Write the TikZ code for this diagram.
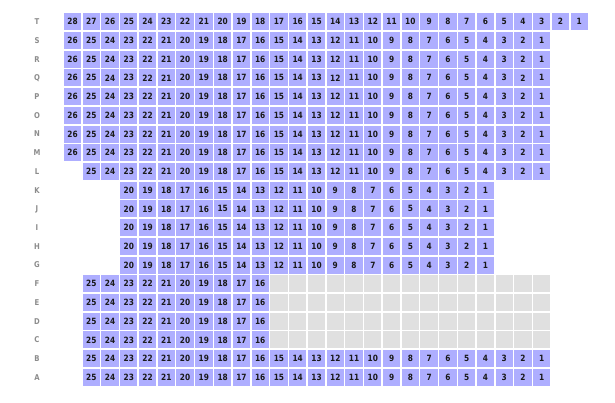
\documentclass[tikz,border=0pt]{standalone}
\usepackage{fontspec}
\setmainfont{DejaVu Sans}[FakeStretch=0.86]
\definecolor{seat}{HTML}{AEAEFF}
\definecolor{blocked}{HTML}{E0E0E0}
\definecolor{rowlbl}{HTML}{8C8C8C}
\begin{document}
\begin{tikzpicture}[x=1pt,y=-1pt,
  seatbox/.style={fill=seat, minimum width=17.3pt, minimum height=17pt, inner sep=0pt,
    font=\bfseries\fontsize{8.6}{8.6}\selectfont, text=black!90},
  blockbox/.style={fill=blocked, minimum width=17.3pt, minimum height=17pt, inner sep=0pt},
  rowlabel/.style={font=\bfseries\fontsize{8}{8}\selectfont, text=rowlbl, inner sep=0pt}]
\useasboundingbox (0,0) rectangle (615,402);
\foreach \r/\lab/\st/\top/\cnt/\g in {
  0/T/0/28/28/0, 1/S/0/26/26/0, 2/R/0/26/26/0, 3/Q/0/26/26/0, 4/P/0/26/26/0,
  5/O/0/26/26/0, 6/N/0/26/26/0, 7/M/0/26/26/0, 8/L/1/25/25/0,
  9/K/3/20/20/0, 10/J/3/20/20/0, 11/I/3/20/20/0, 12/H/3/20/20/0, 13/G/3/20/20/0,
  14/F/1/25/10/15, 15/E/1/25/10/15, 16/D/1/25/10/15, 17/C/1/25/10/15,
  18/B/1/25/25/0, 19/A/1/25/25/0}{
  \pgfmathsetmacro{\yy}{21.7+18.72*\r}
  \node[rowlabel] (lab-\lab) at (37,\yy) {\lab};
  \pgfmathtruncatemacro{\last}{\cnt-1}
  \foreach \k in {0,...,\last}{
    \pgfmathtruncatemacro{\num}{\top-\k}
    \pgfmathsetmacro{\xx}{72.5+18.77*(\st+\k)}
    \node[seatbox] (s-\lab-\num) at (\xx,\yy) {\num};
  }
  \ifnum\g>0
    \pgfmathtruncatemacro{\glast}{\g-1}
    \foreach \k in {0,...,\glast}{
      \pgfmathsetmacro{\xx}{72.5+18.77*(\st+\cnt+\k)}
      \node[blockbox] (b-\lab-\k) at (\xx,\yy) {};
    }
  \fi
}
\end{tikzpicture}
\end{document}
